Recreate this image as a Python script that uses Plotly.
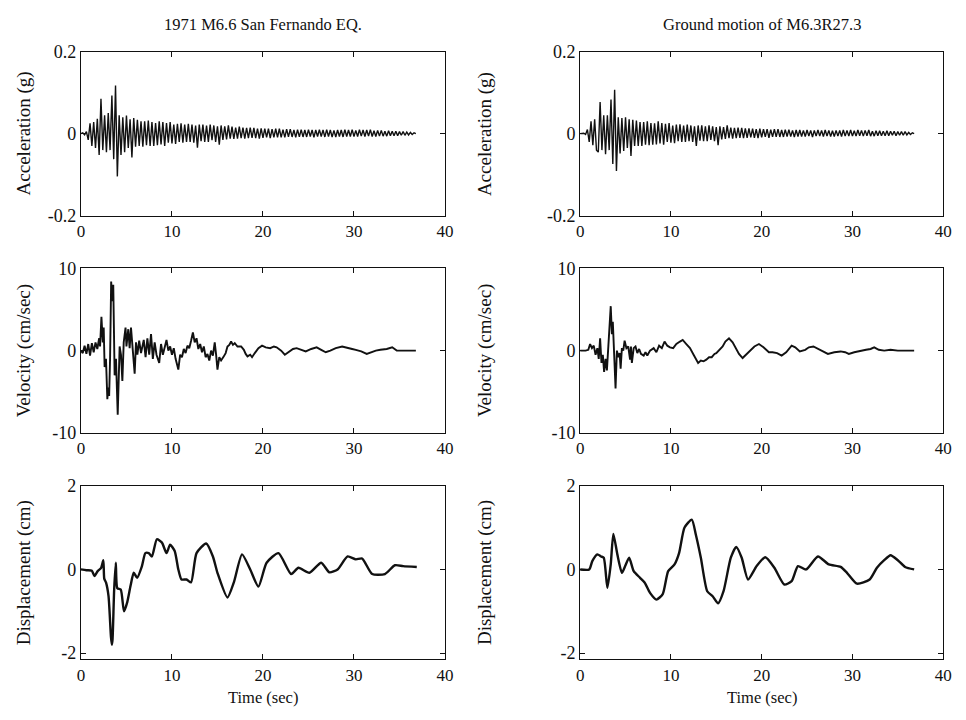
import numpy as np
import plotly.graph_objects as go

# ---------------- data ----------------
ACC_DT = 0.2  # sampling step of the transcribed accelerograms (s)

acc_left = [
    0, 0.002, -0.003, 0.005, -0.015, 0.025, -0.03, 0.028, -0.035, 0.036,
    -0.052, 0.085, -0.04, 0.045, -0.045, 0.05, -0.04, 0.093, -0.062, 0.117,
    -0.104, 0.045, -0.052, 0.04, -0.045, 0.044, -0.035, 0.035, -0.058, 0.038,
    -0.032, 0.034, -0.03, 0.03, -0.032, 0.03, -0.028, 0.032, -0.03, 0.028,
    -0.03, 0.026, -0.028, 0.03, -0.026, 0.028, -0.03, 0.026, -0.022, 0.028,
    -0.024, 0.022, -0.025, 0.024, -0.02, 0.025, -0.022, 0.022, -0.02, 0.024,
    -0.02, 0.022, -0.022, 0.02, -0.034, 0.022, -0.018, 0.022, -0.02, 0.02,
    -0.02, 0.022, -0.016, 0.02, -0.02, 0.018, -0.027, 0.02, -0.015, 0.018,
    -0.014, 0.02, -0.012, 0.017, -0.013, 0.015, -0.012, 0.017, -0.011, 0.015,
    -0.012, 0.014, -0.011, 0.015, -0.01, 0.014, -0.011, 0.012, -0.012, 0.013,
    -0.01, 0.012, -0.009, 0.012, -0.011, 0.011, -0.009, 0.012, -0.009, 0.012,
    -0.009, 0.01, -0.009, 0.011, -0.008, 0.011, -0.008, 0.009, -0.009, 0.01,
    -0.008, 0.01, -0.008, 0.009, -0.008, 0.01, -0.007, 0.009, -0.009, 0.009,
    -0.007, 0.01, -0.007, 0.009, -0.008, 0.01, -0.007, 0.009, -0.008, 0.008,
    -0.008, 0.009, -0.007, 0.009, -0.008, 0.01, -0.007, 0.009, -0.007, 0.01,
    -0.007, 0.008, -0.007, 0.01, -0.006, 0.009, -0.007, 0.009, -0.006, 0.01,
    -0.007, 0.007, -0.007, 0.008, -0.006, 0.008, -0.006, 0.006, -0.006, 0.007,
    -0.005, 0.006, -0.005, 0.006, -0.005, 0.005, -0.004, 0.005, -0.004, 0.004,
    -0.003, 0.003, -0.002, 0.002, 0,
]

acc_right = [
    0, 0, 0.001, -0.002, 0.01, -0.02, 0.03, -0.028, 0.035, -0.04,
    -0.045, 0.077, -0.04, 0.045, -0.05, 0.045, -0.04, 0.083, -0.074, 0.107,
    -0.091, 0.04, -0.048, 0.038, -0.042, 0.04, -0.035, 0.035, -0.054, 0.034,
    -0.03, 0.032, -0.03, 0.028, -0.03, 0.028, -0.027, 0.03, -0.028, 0.026,
    -0.027, 0.025, -0.026, 0.03, -0.024, 0.026, -0.027, 0.024, -0.02, 0.026,
    -0.022, 0.02, -0.023, 0.022, -0.018, 0.023, -0.02, 0.02, -0.02, 0.022,
    -0.018, 0.02, -0.02, 0.018, -0.03, 0.02, -0.017, 0.02, -0.018, 0.018,
    -0.018, 0.02, -0.015, 0.018, -0.018, 0.016, -0.028, 0.018, -0.014, 0.016,
    -0.013, 0.02, -0.011, 0.015, -0.012, 0.014, -0.011, 0.015, -0.01, 0.014,
    -0.011, 0.013, -0.01, 0.013, -0.009, 0.012, -0.01, 0.011, -0.011, 0.012,
    -0.009, 0.011, -0.008, 0.011, -0.01, 0.01, -0.008, 0.011, -0.008, 0.011,
    -0.008, 0.009, -0.008, 0.01, -0.007, 0.01, -0.007, 0.008, -0.008, 0.009,
    -0.007, 0.009, -0.007, 0.008, -0.007, 0.009, -0.006, 0.008, -0.008, 0.008,
    -0.006, 0.009, -0.006, 0.008, -0.007, 0.009, -0.006, 0.008, -0.007, 0.007,
    -0.007, 0.008, -0.006, 0.008, -0.007, 0.009, -0.006, 0.008, -0.006, 0.009,
    -0.006, 0.007, -0.006, 0.009, -0.005, 0.008, -0.006, 0.008, -0.005, 0.009,
    -0.006, 0.006, -0.006, 0.007, -0.005, 0.007, -0.005, 0.006, -0.005, 0.007,
    -0.005, 0.006, -0.004, 0.006, -0.005, 0.005, -0.004, 0.005, -0.004, 0.005,
    -0.003, 0.003, -0.002, 0.002, 0,
]

vel_left_t = [
    0.0, 0.2, 0.4, 0.6, 0.8, 1.0, 1.2, 1.4, 1.6, 1.8, 2.0, 2.1, 2.25, 2.4, 2.5,
    2.6, 2.75, 2.9, 3.0, 3.1, 3.2, 3.32, 3.45, 3.55, 3.7, 3.85, 4.04, 4.15, 4.25,
    4.4, 4.55, 4.7, 4.9, 5.0, 5.2, 5.35, 5.5, 5.7, 5.9, 6.05, 6.2, 6.4, 6.6, 6.9,
    7.1, 7.3, 7.5, 7.7, 7.9, 8.1, 8.3, 8.6, 8.8, 9.0, 9.2, 9.4, 9.6, 9.8, 10.0,
    10.2, 10.4, 10.7, 10.9, 11.1, 11.3, 11.5, 11.7, 11.9, 12.1, 12.3, 12.5, 12.7,
    12.9, 13.1, 13.3, 13.5, 13.7, 13.9, 14.1, 14.3, 14.5, 14.7, 14.85, 15.0, 15.2,
    15.4, 15.7, 15.9, 16.1, 16.3, 16.5, 16.7, 16.9, 17.2, 17.6, 17.9, 18.1, 18.3,
    18.6, 18.8, 19.1, 19.5, 19.9, 20.3, 20.8, 21.2, 21.5, 22.0, 22.4, 22.9, 23.3,
    23.7, 24.2, 24.7, 25.3, 25.9, 26.4, 26.9, 27.4, 28.0, 28.7, 29.3, 29.8, 30.2,
    30.8, 31.4, 31.9, 32.4, 32.9, 33.6, 34.2, 34.7, 35.5, 36.8,
]
vel_left = [
    0, -0.3, 0.6, -0.4, 0.8, -0.6, 0.9, -0.2, 1.0, 0.2, 1.5, 0.5, 4.1, 1.0, 2.8,
    -2.0, -1.0, -5.9, -4.5, -5.5, -1.0, 8.4, 6.0, 8.0, -3.0, -1.0, -7.8, -2.0, 0.5,
    -0.5, -3.7, 1.0, 2.8, 0.5, 2.6, 0.3, 2.8, 0.0, -2.8, 1.0, -0.5, 1.2, -0.3, 1.3,
    -0.8, 1.5, -0.5, 2.0, -1.0, 1.0, -0.5, -1.5, 0.8, -0.5, 0.6, 1.3, 0.0, 0.5, -0.5,
    0.3, -1.0, -2.3, -0.5, -0.8, 0.2, -0.3, 0.6, 0.3, 1.2, 2.2, 1.0, 1.5,
    0.2, 0.8, -0.2, 0.5, -0.8, -0.4, -1.2, 0.0, -0.6, 1.0, -0.5, -2.3, -0.8,
    -1.2, -0.7, -0.3, 0.5, 0.7, 1.1, 0.7, 0.9, 0.5, 0.5, 0.1, -0.4, -0.7,
    -0.5, -0.8, -0.3, 0.3, 0.6, 0.4, 0.3, 0.5, 0.4, 0.0, -0.5, -0.1, 0.2,
    0.3, 0.1, -0.1, 0.2, 0.4, 0.1, -0.2, 0.0, 0.3, 0.5, 0.3, 0.2, 0.1,
    -0.1, -0.4, -0.2, 0.0, 0.1, 0.2, 0.4, 0.0, 0.0, 0.0,
]

vel_right_t = [
    0.0, 0.6, 0.9, 1.1, 1.3, 1.5, 1.7, 1.9, 2.05, 2.2, 2.35, 2.5, 2.64, 2.8, 2.95,
    3.1, 3.2, 3.37, 3.5, 3.6, 3.75, 3.9, 4.05, 4.2, 4.35, 4.46, 4.6, 4.75, 4.9, 5.1,
    5.3, 5.5, 5.6, 5.7, 5.9, 6.1, 6.3, 6.5, 6.7, 7.0, 7.2, 7.4, 7.7, 8.1, 8.4, 8.7,
    9.0, 9.3, 9.6, 9.9, 10.25, 10.6, 11.0, 11.3, 11.7, 12.1, 12.5, 13.0, 13.3, 13.6,
    13.9, 14.2, 14.5, 14.8, 15.0, 15.3, 15.7, 16.0, 16.4, 16.8, 17.2, 17.5, 17.9,
    18.3, 18.8, 19.2, 19.7, 20.2, 20.8, 21.2, 21.7, 22.2, 22.7, 23.3, 23.7, 24.2,
    24.8, 25.2, 25.7, 26.3, 26.8, 27.3, 28.0, 28.7, 29.2, 29.6, 30.2, 30.9, 31.5,
    32.0, 32.4, 32.9, 33.5, 34.2, 35.0, 36.0, 36.8,
]
vel_right = [
    0, 0, 0.1, 0.8, 0.3, 0.6, -0.5, 0.3, -1.0, 1.5, -1.5, -0.5, -2.6, -1.0, -2.4,
    0.0, 1.5, 5.4, 2.0, 3.5, -0.5, -4.6, 0.0, -0.8, -0.3, -2.2, 0.3, 0.0, 1.2, 0.3,
    0.5, -1.1, 0.5, -1.5, 0.3, 0.5, -0.3, 0.2, -0.4, -0.6, -0.2, -0.6, 0.0, 0.3, -0.2, 0.6,
    0.3, 1.1, 0.6, 0.4, 0.3, 0.8, 1.1, 1.3, 0.8, 0.3, -0.5, -1.5, -1.2, -1.3,
    -1.1, -0.8, -0.8, -0.4, -0.3, 0.0, 0.5, 1.1, 1.5, 1.0, 0.2, -0.4, -0.9,
    -0.5, 0.1, 0.5, 0.8, 0.4, -0.2, -0.2, -0.3, -0.6, -0.2, 0.6, 0.4, -0.1,
    0.1, 0.4, 0.5, 0.2, -0.1, -0.4, -0.2, -0.1, -0.2, -0.4, -0.2, 0.0, 0.1,
    0.2, 0.4, 0.1, 0.0, 0.1, 0.0, 0.0, 0.0,
]

disp_left_t = [
    0.0, 0.6, 1.2, 1.48, 1.84, 2.2, 2.46, 2.56, 2.75, 3.03, 3.3, 3.4, 3.47, 3.65,
    3.83, 4.0, 4.37, 4.73, 5.09, 5.45, 5.8, 6.17, 6.7, 7.08, 7.44, 7.8, 8.34, 8.9,
    9.4, 9.8, 10.3, 10.7, 11.05, 11.6, 12.1, 12.7, 13.76, 14.5, 15.0, 16.1, 16.8,
    17.7, 18.6, 19.5, 20.4, 21.7, 23.1, 23.9, 25.1, 26.4, 27.3, 28.2, 29.3, 30.2,
    30.9, 32.0, 33.4, 34.5, 35.4, 36.9,
]
disp_left = [
    0.0, -0.02, -0.03, -0.16, -0.04, 0.03, 0.22, -0.22, -0.31, -0.64, -1.62, -1.8, -1.68, -0.48,
    0.16, -0.45, -0.48, -1.0, -0.78, -0.39, -0.08, -0.2, 0.08, 0.39, 0.39, 0.31, 0.72, 0.64,
    0.39, 0.59, 0.44, 0.0, -0.24, -0.24, -0.31, 0.39, 0.62, 0.31, -0.08, -0.67, -0.31,
    0.36, 0.0, -0.41, 0.16, 0.39, -0.11, 0.04, -0.08, 0.16, -0.07, 0.0, 0.31, 0.24,
    0.26, -0.11, -0.11, 0.1, 0.08, 0.06,
]

disp_right_t = [
    0.0, 1.0, 1.34, 1.9, 2.3, 2.6, 3.0, 3.37, 3.66, 4.1, 4.6, 4.96, 5.4, 5.9, 6.6,
    7.1, 7.7, 8.4, 9.1, 9.7, 10.4, 10.9, 11.5, 12.3, 12.75, 13.3, 14.0, 14.6, 15.2,
    15.8, 16.6, 17.2, 17.8, 18.5, 19.45, 20.4, 21.4, 22.5, 23.3, 24.0, 24.9, 26.2,
    27.4, 28.7, 29.4, 30.5, 31.9, 32.7, 33.5, 34.2, 35.0, 35.8, 36.8,
]
disp_right = [
    0.0, 0.0, 0.2, 0.36, 0.31, 0.28, -0.44, 0.12, 0.85, 0.36, -0.08, 0.08, 0.28, -0.04, -0.2,
    -0.31, -0.56, -0.72, -0.59, -0.04, 0.12, 0.39, 1.0, 1.19, 0.83, 0.28, -0.52, -0.64, -0.81,
    -0.52, 0.28, 0.54, 0.28, -0.24, 0.08, 0.29, 0.04, -0.36, -0.28, 0.08, 0.0, 0.31,
    0.12, 0.06, -0.08, -0.34, -0.24, 0.04, 0.22, 0.34, 0.22, 0.06, 0.0,
]

titles = ["1971 M6.6 San Fernando EQ.", "Ground motion of M6.3R27.3"]
row_labels = ["Acceleration (g)", "Velocity (cm/sec)", "Displacement (cm)"]
x_label = "Time (sec)"
x_ticks = [0, 10, 20, 30, 40]
y_ranges = [[-0.2, 0.2], [-10, 10], [-2.15, 2]]
y_tickvals = [[-0.2, 0, 0.2], [-10, 0, 10], [-2, 0, 2]]
y_ticktext = [["-0.2", "0", "0.2"], ["-10", "0", "10"], ["-2", "0", "2"]]

# ---------------- figure ----------------
W, H = 966, 720
FONT = "Liberation Serif"
INK = "#111111"

col_px = [(78, 447), (584, 952)]
row_px = [(42.7, 211.7), (265.7, 435.0), (489.3, 668.0)]
ylabel_x = [20, 487]

def xd(a, b):
    return [a / W, b / W]

def yd(a, b):
    return [1 - b / H, 1 - a / H]

acc_t_left = ACC_DT * np.arange(len(acc_left))
acc_t_right = ACC_DT * np.arange(len(acc_right))

series = {
    (0, 0): (acc_t_left, acc_left, 1.4, "linear"),
    (0, 1): (acc_t_right, acc_right, 1.4, "linear"),
    (1, 0): (vel_left_t, vel_left, 1.9, "linear"),
    (1, 1): (vel_right_t, vel_right, 1.9, "linear"),
    (2, 0): (disp_left_t, disp_left, 2.4, "spline"),
    (2, 1): (disp_right_t, disp_right, 2.4, "spline"),
}

fig = go.Figure()
layout = dict(
    width=W, height=H,
    margin=dict(l=0, r=0, t=0, b=0),
    paper_bgcolor="white", plot_bgcolor="white",
    showlegend=False,
    font=dict(family=FONT, size=16, color=INK),
)
annotations = []

idx = 0
for r in range(3):
    for c in range(2):
        idx += 1
        xa = "xaxis" if idx == 1 else f"xaxis{idx}"
        ya = "yaxis" if idx == 1 else f"yaxis{idx}"
        xref = "x" if idx == 1 else f"x{idx}"
        yref = "y" if idx == 1 else f"y{idx}"
        t, v, lw, shape = series[(r, c)]
        line = dict(color=INK, width=lw, shape=shape)
        if shape == "spline":
            line["smoothing"] = 0.6
        fig.add_trace(go.Scatter(x=list(t), y=v, mode="lines", line=line,
                                 xaxis=xref, yaxis=yref, hoverinfo="skip"))
        common = dict(showline=True, linecolor=INK, linewidth=1, mirror="ticks",
                      ticks="inside", ticklen=5, tickcolor=INK, showgrid=False,
                      zeroline=False)
        layout[xa] = dict(domain=xd(*col_px[c]), range=[0, 40], tickvals=x_ticks,
                          anchor=yref, tickfont=dict(family=FONT, size=17, color=INK),
                          **common)
        layout[ya] = dict(domain=yd(*row_px[r]), range=y_ranges[r],
                          tickvals=y_tickvals[r], ticktext=y_ticktext[r],
                          anchor=xref, tickfont=dict(family=FONT, size=18, color=INK),
                          **common)
        annotations.append(dict(text=row_labels[r], textangle=-90, xref="paper", yref="paper",
                                x=ylabel_x[c] / W, y=1 - (row_px[r][0] + row_px[r][1]) / 2 / H,
                                showarrow=False, xanchor="center", yanchor="middle",
                                font=dict(family=FONT, size=19, color=INK)))

for c in range(2):
    cx = (col_px[c][0] + col_px[c][1]) / 2 / W
    annotations.append(dict(text=titles[c], xref="paper", yref="paper", x=cx, y=1 - 15 / H,
                            showarrow=False, xanchor="center", yanchor="middle",
                            font=dict(family=FONT, size=16.5, color=INK)))
    annotations.append(dict(text=x_label, xref="paper", yref="paper", x=cx, y=1 - 707 / H,
                            showarrow=False, xanchor="center", yanchor="middle",
                            font=dict(family=FONT, size=16.5, color=INK)))

layout["annotations"] = annotations
fig.update_layout(**layout)
fig.write_html("out.html")
